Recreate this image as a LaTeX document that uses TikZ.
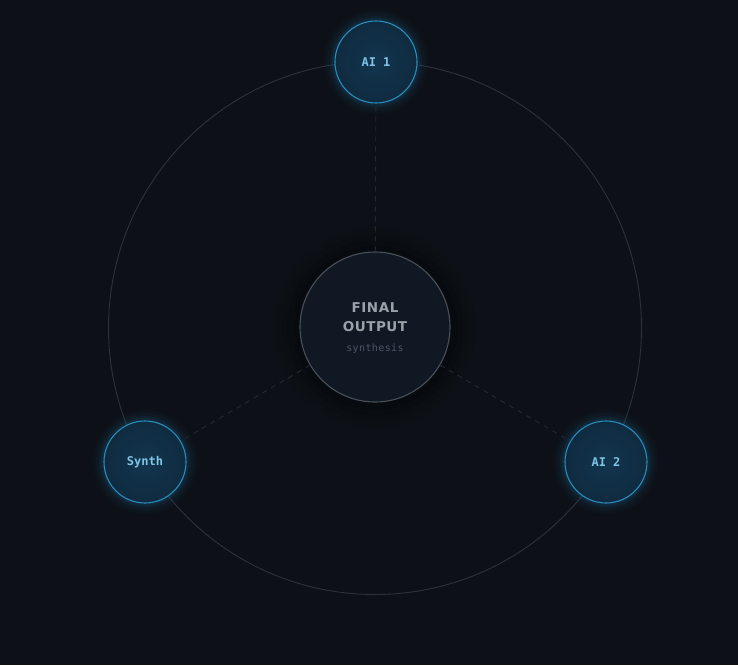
\documentclass[tikz,border=0pt]{standalone}
\usepackage{fontspec}
\setmainfont{DejaVu Sans}
\newfontfamily\monob{DejaVu Sans Mono}
\newfontfamily\sansbold{DejaVu Sans}[LetterSpace=4]
\newfontfamily\monolight{DejaVu Sans Mono}[LetterSpace=4]
\usetikzlibrary{shadings}
\definecolor{bg}{HTML}{0D1117}
\definecolor{ringc}{HTML}{2C323A}
\definecolor{dashc}{HTML}{212A34}
\definecolor{agentfill}{HTML}{0F2B40}
\definecolor{agentfillin}{HTML}{12354E}
\definecolor{agentstroke}{HTML}{2A8CBB}
\definecolor{agenttext}{HTML}{7FC6E8}
\definecolor{glowc}{HTML}{1E6F98}
\definecolor{centerfill}{HTML}{101824}
\definecolor{centerstroke}{HTML}{4A5058}
\definecolor{centertext}{HTML}{9BA1A8}
\definecolor{subtext}{HTML}{4D5662}
\tikzset{
  agent/.style={circle, minimum size=82pt, inner sep=0pt, draw=agentstroke, line width=1.1pt,
    inner color=agentfillin, outer color=agentfill, text=agenttext,
    font=\monob\fontsize{12}{14}\selectfont\bfseries},
  hub/.style={circle, minimum size=150pt, inner sep=0pt, draw=centerstroke, line width=1.1pt,
    fill=centerfill, text=centertext, align=center},
  link/.style={draw=dashc, line width=0.9pt, dash pattern=on 5pt off 5pt},
  ring/.style={draw=ringc, line width=0.9pt},
}
\begin{document}
\begin{tikzpicture}[x=1pt,y=-1pt]
\fill[bg] (0,0) rectangle (738,665);
\useasboundingbox (0,0) rectangle (738,665);
% ring
\coordinate (c) at (375,328);
\draw[ring] (c) circle (266.5);
% hub shadow
\foreach \r/\o in {100/0.06,94/0.08,88/0.1,82/0.12} {\fill[black,opacity=\o] (c) circle (\r);}
% agent glows
\foreach \p in {(376,62),(145,462),(606,462)} {
  \foreach \r/\o in {52/0.04,49/0.06,46/0.08,44/0.12} {\fill[glowc,opacity=\o] \p circle (\r);}
}
\node[hub] (hub) at (375,327) {};
\node[agent] (ai1) at (376,62) {AI 1};
\node[agent] (synth) at (145,462) {Synth};
\node[agent] (ai2) at (606,462) {AI 2};
\draw[link] (hub) -- (ai1);
\draw[link] (hub) -- (synth);
\draw[link] (hub) -- (ai2);
\node[text=centertext, font=\sansbold\fontsize{13.5}{19.5}\selectfont\bfseries, align=center] (title) at (375,317) {FINAL\\OUTPUT};
\node[text=subtext, font=\monolight\fontsize{10}{12}\selectfont] (sub) at (375,349) {synthesis};
\end{tikzpicture}
\end{document}
